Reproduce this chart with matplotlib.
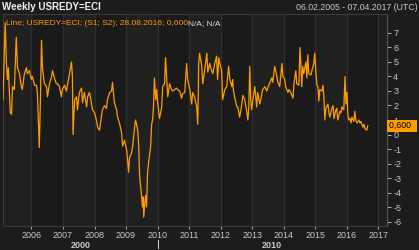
import matplotlib
matplotlib.use("Agg")
import matplotlib.pyplot as plt
from matplotlib.transforms import blended_transform_factory

# ---- data (decimal years, values) ----
dates = [2005.10, 2005.17, 2005.21, 2005.24, 2005.27, 2005.33, 2005.37, 2005.40, 2005.46, 2005.52,
         2005.56, 2005.62, 2005.68, 2005.71, 2005.78, 2005.84, 2005.87, 2005.94, 2006.00, 2006.03,
         2006.10, 2006.16, 2006.19, 2006.25, 2006.29, 2006.32, 2006.35, 2006.41, 2006.48, 2006.51,
         2006.57, 2006.63, 2006.67, 2006.73, 2006.79, 2006.83, 2006.89, 2006.95, 2006.98, 2007.05,
         2007.11, 2007.14, 2007.21, 2007.27, 2007.30, 2007.32, 2007.37, 2007.43, 2007.46, 2007.52,
         2007.59, 2007.62, 2007.68, 2007.75, 2007.78, 2007.84, 2007.90, 2007.94, 2008.00, 2008.06,
         2008.10, 2008.16, 2008.22, 2008.25, 2008.32, 2008.38, 2008.41, 2008.48, 2008.54, 2008.57,
         2008.63, 2008.70, 2008.73, 2008.79, 2008.86, 2008.89, 2008.95, 2009.02, 2009.05, 2009.08,
         2009.11, 2009.17, 2009.21, 2009.27, 2009.30, 2009.37, 2009.40, 2009.43, 2009.49, 2009.52,
         2009.54, 2009.56, 2009.59, 2009.62, 2009.65, 2009.68, 2009.71, 2009.78, 2009.81, 2009.84,
         2009.87, 2009.90, 2009.94, 2009.97, 2010.00, 2010.06, 2010.13, 2010.16, 2010.22, 2010.25,
         2010.29, 2010.32, 2010.38, 2010.44, 2010.48, 2010.54, 2010.60, 2010.63, 2010.70, 2010.76,
         2010.79, 2010.86, 2010.92, 2010.95, 2011.02, 2011.08, 2011.11, 2011.17, 2011.24, 2011.27,
         2011.29, 2011.30, 2011.33, 2011.40, 2011.43, 2011.49, 2011.56, 2011.59, 2011.65, 2011.71,
         2011.75, 2011.81, 2011.87, 2011.90, 2011.94, 2011.97, 2012.03, 2012.06, 2012.13, 2012.19,
         2012.22, 2012.25, 2012.29, 2012.35, 2012.38, 2012.40, 2012.44, 2012.51, 2012.54, 2012.60,
         2012.67, 2012.70, 2012.76, 2012.83, 2012.86, 2012.89, 2012.92, 2012.95, 2012.98, 2013.02,
         2013.08, 2013.14, 2013.17, 2013.24, 2013.30, 2013.33, 2013.40, 2013.46, 2013.49, 2013.56,
         2013.62, 2013.65, 2013.71, 2013.78, 2013.81, 2013.87, 2013.94, 2013.97, 2014.03, 2014.06,
         2014.13, 2014.16, 2014.22, 2014.29, 2014.32, 2014.38, 2014.41, 2014.48, 2014.51, 2014.54,
         2014.57, 2014.60, 2014.63, 2014.70, 2014.73, 2014.76, 2014.79, 2014.86, 2014.89, 2014.95,
         2014.98, 2015.02, 2015.05, 2015.08, 2015.11, 2015.14, 2015.21, 2015.24, 2015.27, 2015.30,
         2015.33, 2015.40, 2015.43, 2015.46, 2015.52, 2015.56, 2015.59, 2015.65, 2015.68, 2015.71,
         2015.78, 2015.81, 2015.84, 2015.90, 2015.94, 2015.97, 2016.00, 2016.03, 2016.06, 2016.10,
         2016.13, 2016.16, 2016.22, 2016.25, 2016.29, 2016.32, 2016.38, 2016.41, 2016.44, 2016.51,
         2016.54, 2016.57, 2016.63, 2016.66]
values = [2.4, 7.7, 4.9, 3.8, 4.6, 1.5, 1.4, 3.3, 3.1, 6.7,
          4.6, 4.2, 3.3, 3.1, 4.2, 4.6, 4.2, 4.4, 3.8, 4.0,
          3.4, 3.4, 2.9, -0.9, 2.8, 6.5, 4.6, 3.5, 3.3, 2.6,
          3.5, 3.9, 4.4, 3.9, 3.5, 3.5, 3.3, 2.6, 3.1, 3.4,
          3.0, 3.4, 4.2, 5.0, 4.0, 0.0, 2.4, 2.6, 1.7, 2.9,
          3.2, 2.2, 2.9, 1.9, 2.6, 2.9, 2.2, 1.7, 1.5, 1.0,
          0.5, 0.3, 1.2, 1.7, 2.0, 1.8, 2.4, 2.9, 3.0, 3.6,
          2.2, 1.7, 1.2, 0.8, 0.1, -0.8, -0.4, -1.1, -1.8, -2.6,
          -1.6, -1.3, -0.8, 0.5, 1.0, 0.3, -0.8, -2.9, -4.2, -5.0,
          -4.3, -5.7, -4.8, -4.2, -5.0, -2.7, -2.0, -0.8, 0.7, 1.0,
          1.9, 3.9, 2.4, 3.1, 2.2, 1.1, 1.9, 3.3, 3.5, 5.3,
          3.8, 2.6, 3.5, 3.1, 3.0, 3.1, 3.2, 3.1, 3.0, 2.5,
          2.8, 2.9, 4.9, 3.8, 3.1, 2.1, 2.9, 2.6, 1.9, 0.7,
          2.9, 4.9, 5.6, 4.7, 3.5, 4.4, 5.6, 4.3, 4.9, 4.4,
          4.2, 4.9, 5.4, 3.8, 5.3, 4.9, 4.4, 2.4, 3.1, 3.3,
          4.0, 4.7, 3.8, 3.3, 3.8, 3.1, 2.6, 1.9, 1.9, 1.2,
          2.1, 2.7, 2.4, 1.5, 1.0, 1.9, 4.7, 2.4, 1.7, 2.4,
          3.3, 1.9, 2.9, 2.1, 2.8, 3.1, 3.3, 3.0, 3.2, 3.6,
          3.9, 3.6, 4.7, 4.0, 3.6, 3.3, 4.9, 4.0, 3.8, 3.3,
          2.9, 3.1, 2.9, 2.5, 3.5, 4.4, 3.5, 3.4, 6.0, 4.9,
          3.3, 4.7, 4.2, 5.0, 3.9, 5.5, 4.2, 4.1, 4.4, 4.9,
          5.6, 4.2, 3.4, 3.3, 2.3, 3.1, 3.0, 3.4, 2.6, 1.0,
          1.8, 2.1, 1.5, 1.2, 1.8, 2.0, 1.1, 1.7, 1.8, 1.0,
          1.6, 1.5, 1.9, 1.7, 4.0, 2.1, 2.9, 1.4, 1.0, 1.1,
          0.8, 1.2, 0.9, 1.6, 0.9, 0.8, 1.0, 0.8, 0.9, 0.5,
          0.7, 0.4, 0.3, 0.6]

year_ticks = [2006, 2007, 2008, 2009, 2010, 2011, 2012, 2013, 2014, 2015, 2016, 2017]
y_ticks = [-6, -5, -4, -3, -2, -1, 0, 1, 2, 3, 4, 5, 6, 7]
x_start, x_end = 2005.10, 2017.27
decade_labels = ["2000", "2010"]
decade_split = 2010

title = "Weekly USREDY=ECI"
range_text = "06.02.2005 - 07.04.2017 (UTC)"
legend_main = "Line; USREDY=ECI; (S1; S2); 28.08.2016; 0,600"
legend_tail = "N/A; N/A"
last_label = "0,600"

# ---- style ----
BG = "#1c1c1c"
BAND_DARK = "#1a1a1a"
BAND_LIGHT = "#202020"
GRID = "#2e2e2e"
TXT = "#c8c8c8"
ORANGE = "#ff9c00"
FONT = "Liberation Sans"

W, H = 419, 250
fig = plt.figure(figsize=(W / 100, H / 100), dpi=100, facecolor=BG)
ax = fig.add_axes([3 / W, 1 - 226 / H, (387 - 3) / W, (226 - 14) / H])
ax.set_facecolor(BAND_LIGHT)

ax.set_xlim(x_start, x_end)
ax.set_ylim(-6.31, 8.31)

# alternating year bands
edges = [x_start] + year_ticks + [x_end]
for i in range(len(edges) - 1):
    col = BAND_LIGHT if i % 2 == 0 else BAND_DARK
    ax.axvspan(edges[i], edges[i + 1], color=col, lw=0, zorder=0)
for yr in year_ticks:
    ax.axvline(yr, color=GRID, lw=1.0, zorder=1)

ax.plot(dates, values, color=ORANGE, lw=0.9, zorder=3)

# spines
for s in ["left", "top", "bottom", "right"]:
    ax.spines[s].set_color("#3a3a3a")
    ax.spines[s].set_linewidth(0.8)
ax.spines["right"].set_color("#555555")

# y axis on right
ax.yaxis.tick_right()
ax.set_yticks(y_ticks)
ax.set_yticklabels([str(v) for v in y_ticks])
ax.tick_params(axis="y", colors=TXT, labelsize=6.5, length=3, width=0.6, pad=1.5,
               direction="out")
ax.tick_params(axis="x", colors=TXT, labelsize=6.5, length=2, width=0.6, pad=1.5,
               direction="out")
ax.set_xticks(year_ticks)
ax.set_xticklabels([str(y) for y in year_ticks])
for lab in ax.get_xticklabels() + ax.get_yticklabels():
    lab.set_fontfamily(FONT)
    lab.set_color(TXT)

# decade row
blend_x = blended_transform_factory(ax.transData, fig.transFigure)
ax.text((x_start + decade_split) / 2, 5 / H, decade_labels[0], transform=blend_x,
        ha="center", va="center", color=TXT, fontsize=6.5, fontweight="bold", family=FONT)
ax.text((decade_split + x_end) / 2, 5 / H, decade_labels[1], transform=blend_x,
        ha="center", va="center", color=TXT, fontsize=6.5, fontweight="bold", family=FONT)
ax.plot([decade_split, decade_split], [2 / H, 10 / H], transform=blend_x, color=TXT,
        lw=0.8, clip_on=False)

# header
fig.text(2 / W, 1 - 7 / H, title, ha="left", va="center", color="#f0f0f0",
         fontsize=7.0, fontweight="bold", family=FONT)
fig.text(1 - 1 / W, 1 - 7 / H, range_text, ha="right", va="center",
         color=TXT, fontsize=6.3, family=FONT)

# legend line in plot
t1 = ax.text(0.008, 0.955, legend_main, transform=ax.transAxes, ha="left", va="center",
             color=ORANGE, fontsize=6.0, family=FONT, zorder=5)
fig.canvas.draw()
bb = t1.get_window_extent()
x_next = ax.transAxes.inverted().transform((bb.x1, bb.y0))[0]
ax.text(x_next, 0.955, legend_tail, transform=ax.transAxes, ha="left", va="center",
        color="#e0e0e0", fontsize=6.0, family=FONT, zorder=5)

# last value box
blend_y = blended_transform_factory(ax.transAxes, ax.transData)
ax.text(1.004, values[-1], last_label + "  ", transform=blend_y, ha="left", va="center",
        color="#000000", fontsize=6.3, family=FONT, zorder=6, clip_on=False,
        bbox=dict(boxstyle="square,pad=0.15", facecolor=ORANGE, edgecolor="none"))

fig.savefig("out.png", dpi=100, facecolor=BG)
